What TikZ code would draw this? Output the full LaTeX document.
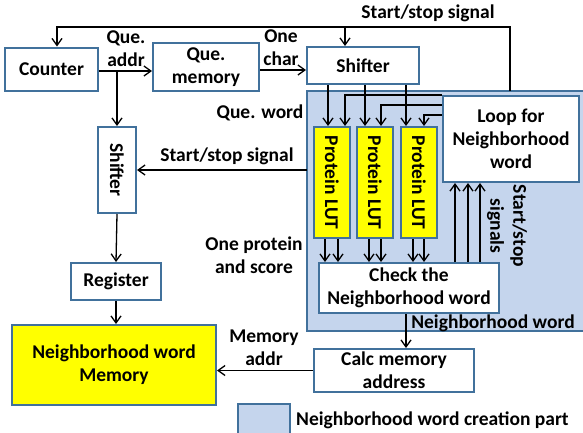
\documentclass[tikz,border=0pt]{standalone}
\usepackage{fontspec}
\setmainfont{Carlito}
\usepackage{tikz}
\usetikzlibrary{arrows.meta,positioning}
\usepackage{xcolor}
\definecolor{borde}{RGB}{65,113,156}
\definecolor{zona}{RGB}{197,213,237}
\definecolor{amarillo}{RGB}{255,255,0}

\begin{document}
\begin{tikzpicture}[x=1pt,y=-1pt,
  caja/.style={draw=borde,line width=2pt,fill=white,inner sep=0pt,align=center,font=\fontsize{19.5}{23}\selectfont\bfseries},
  etiqueta/.style={inner sep=0pt,align=center,font=\fontsize{19.5}{23}\selectfont\bfseries},
  flecha/.style={-{Straight Barb[length=7pt,width=10pt]},line width=1.3pt}]

  \useasboundingbox (0,0) rectangle (583,432);

  % Dibujamos la zona de creación de palabras vecinas
  \fill[zona,draw=borde,line width=2pt] (307,91) rectangle (600,331);
  \coordinate (sigA) at (510,91);
  \coordinate (sigB) at (307,170);

  % Bloques de la parte izquierda
  \node[caja,minimum width=93pt,minimum height=43pt] (counter) at (51.5,69) {Counter};
  \node[caja,minimum width=106pt,minimum height=48pt] (quemem) at (206,67) {Que.\\memory};
  \node[caja,minimum width=38pt,minimum height=86pt] (shifterB) at (117,170) {\rotatebox{-90}{Shifter}};
  \node[caja,minimum width=90pt,minimum height=37pt] (register) at (116,281.5) {Register};
  \node[caja,fill=amarillo,minimum width=204pt,minimum height=80pt] (memory) at (114,365) {Neighborhood word\\Memory};

  % Bloques de la zona azul
  \node[caja,minimum width=112pt,minimum height=37pt] (shifterA) at (363,65.5) {Shifter};
  \foreach \n/\x in {1/332,2/375,3/419}
    \node[caja,fill=amarillo,minimum width=36pt,minimum height=111pt] (lut\n) at (\x,182.5) {\rotatebox{-90}{Protein LUT}};
  \node[caja,minimum width=136pt,minimum height=86pt] (loop) at (511,139) {Loop for\\Neighborhood\\word};
  \node[caja,minimum width=180pt,minimum height=50pt] (check) at (409,288) {Check the\\Neighborhood word};
  \node[caja,minimum width=160pt,minimum height=43pt] (calc) at (394,370.5) {Calc memory\\address};

  % Leyenda
  \node[caja,fill=zona,minimum width=52pt,minimum height=36pt] (leyenda) at (264,422) {};
  \node[etiqueta,anchor=west] (txtleyenda) at (296,420) {Neighborhood word creation part};

  % Etiquetamos las conexiones
  \node[etiqueta] (lblss) at (428,13) {Start/stop signal};
  \node[etiqueta] (lbladdr) at (126,49) {Que.\\addr};
  \node[etiqueta] (lblchar) at (281,48) {One\\char};
  \node[etiqueta] (lblword) at (260,113) {Que. word};
  \node[etiqueta] (lblssb) at (227,156) {Start/stop signal};
  \node[etiqueta] (lblprot) at (254,255) {One protein\\and score};
  \node[etiqueta,rotate=-90] (lblsigs) at (507,226) {Start/stop\\signals};
  \node[etiqueta] (lblnw) at (493,323) {Neighborhood word};
  \node[etiqueta] (lblmem) at (264,348) {Memory\\addr};

  % Señal de inicio/parada hacia arriba
  \draw[flecha] (sigA) -- (sigA |- 0,27) -| (counter.north -| 57,0);
  \draw[flecha] (345,27) -- (shifterA.north -| 345,0);

  % Conexiones de la parte izquierda
  \draw[flecha] (counter.east |- 0,71) -- (quemem.west |- 0,71);
  \draw[flecha] (shifterB.north |- 0,71) -- (shifterB.north);
  \draw[flecha] (quemem.east |- 0,70) -- (shifterA.west |- 0,70);
  \draw[flecha] (sigB) -- (shifterB.east);
  \draw[flecha] (shifterB.south) -- (register.north);
  \draw[flecha] (register.south) -- (memory.north -| register.south);

  % Conexiones de la zona azul
  \foreach \n/\x in {1/328,2/365,3/406}
    \draw[flecha] (shifterA.south -| \x,0) -- (lut\n.north -| \x,0);
  \foreach \n/\x/\y in {1/345/95,2/381/105,3/424/115}
    \draw[flecha] (loop.west |- 0,\y) -- (\x,\y) -- (lut\n.north -| \x,0);
  \foreach \n/\a/\b in {1/325/338,2/369/381,3/413/424} {
    \draw[flecha] (lut\n.south -| \a,0) -- (check.north -| \a,0);
    \draw[flecha] (lut\n.south -| \b,0) -- (check.north -| \b,0);
  }
  \foreach \x in {455,468,480}
    \draw[flecha] (check.north -| \x,0) -- (loop.south -| \x,0);
  \draw[flecha] (check.south -| 406,0) -- (calc.north -| 406,0);
  \draw[flecha] (calc.west) -- (calc.west -| memory.east);
\end{tikzpicture}
\end{document}
